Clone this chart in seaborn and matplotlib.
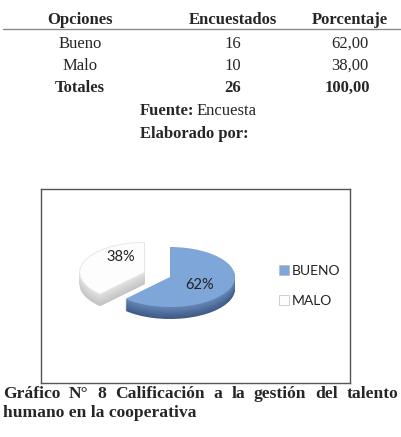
import matplotlib
matplotlib.use("Agg")
import matplotlib.pyplot as plt
import seaborn as sns
import numpy as np
from matplotlib.lines import Line2D

# ---- data ----
opciones = ["Bueno", "Malo"]
encuestados = [16, 10]
porcentaje = ["62,00", "38,00"]
total_enc = "26"
total_pct = "100,00"
pie_labels = ["BUENO", "MALO"]
pie_values = [62, 38]

sns.set_style("white")
plt.rcParams['font.family'] = ['Liberation Serif', 'DejaVu Serif']

W, H = 401, 437
fig = plt.figure(figsize=(W / 100, H / 100), dpi=100)
fig.patch.set_facecolor("white")

def fx(x):
    return x / W

def fy(y):
    return 1 - y / H

serif = 'Liberation Serif'
fs = 12

# ---- table ----
cols_x = [80, 233, 350]
headers = ["Opciones", "Encuestados", "Porcentaje"]
for cx_, h in zip(cols_x, headers):
    fig.text(fx(cx_), fy(24), h, ha='center', va='baseline', fontsize=fs,
             fontweight='bold', family=serif)
fig.add_artist(Line2D([fx(3), fx(401)], [fy(29), fy(29)], color='#8a8a8a', lw=1.0))
rows_y = [48, 70]
for ry_, o, e, p in zip(rows_y, opciones, encuestados, porcentaje):
    fig.text(fx(cols_x[0]), fy(ry_), o, ha='center', va='baseline', fontsize=fs, family=serif)
    fig.text(fx(cols_x[1]), fy(ry_), str(e), ha='center', va='baseline', fontsize=fs, family=serif)
    fig.text(fx(cols_x[2]), fy(ry_), p, ha='center', va='baseline', fontsize=fs, family=serif)
fig.text(fx(cols_x[0]), fy(92), "Totales", ha='center', va='baseline', fontsize=fs,
         fontweight='bold', family=serif)
fig.text(fx(cols_x[1]), fy(92), total_enc, ha='center', va='baseline', fontsize=fs,
         fontweight='bold', family=serif)
fig.text(fx(347), fy(92), total_pct, ha='center', va='baseline', fontsize=fs,
         fontweight='bold', family=serif)

# Fuente / Elaborado
fig.text(fx(140), fy(115), "Fuente:", ha='left', va='baseline', fontsize=fs,
         fontweight='bold', family=serif)
fig.text(fx(197), fy(115), "Encuesta", ha='left', va='baseline', fontsize=fs, family=serif)
fig.text(fx(194), fy(138), "Elaborado por:", ha='center', va='baseline', fontsize=fs,
         fontweight='bold', family=serif)

# ---- pie chart box ----
bx0, by0, bx1, by1 = 41, 189, 350, 383
ax = fig.add_axes([fx(bx0), fy(by1), (bx1 - bx0) / W, (by1 - by0) / H])
cx, cy, rx, ry = 170, 277, 65, 30
depth = 12

explode = [0.0, 0.42]
top_colors = ['#7fa6d9', '#fdfdfd']

nlayers = 14
for i in range(nlayers, 0, -1):
    d = depth / ry * i / nlayers
    t = i / nlayers
    blue = np.array(matplotlib.colors.to_rgb('#3f5a85')) * t + np.array(matplotlib.colors.to_rgb('#6688b8')) * (1 - t)
    grey = np.array(matplotlib.colors.to_rgb('#c4c4c4')) * t + np.array(matplotlib.colors.to_rgb('#e2e2e2')) * (1 - t)
    ax.pie(pie_values, center=(0, -d), radius=1, startangle=90, counterclock=False,
           explode=explode, colors=[blue, grey], frame=True,
           wedgeprops=dict(linewidth=0))

wedges, texts, autotexts = ax.pie(
    pie_values, center=(0, 0), radius=1, startangle=90, counterclock=False,
    explode=explode, colors=top_colors, frame=True,
    autopct='%1.0f%%', pctdistance=0.55,
    textprops=dict(fontsize=10.5, color='#222222', family=['Lato', 'DejaVu Sans']),
    wedgeprops=dict(linewidth=0.6, edgecolor='none'))
wedges[1].set_edgecolor('#e4e4e4')
p = autotexts[1].get_position()
autotexts[1].set_position((p[0] + 0.15, p[1] + 0.3))
p = autotexts[0].get_position()
autotexts[0].set_position((p[0] - 0.05, p[1] - 0.05))

ax.set_aspect('auto')
ax.set_xlim((bx0 - cx) / rx, (bx1 - cx) / rx)
ax.set_ylim(-(by1 - cy) / ry, (cy - by0) / ry)
ax.set_xticks([])
ax.set_yticks([])
for s in ax.spines.values():
    s.set_visible(True)
    s.set_color('#555555')
    s.set_linewidth(1.0)

leg = fig.legend(wedges, pie_labels, loc='upper left',
                 bbox_to_anchor=(fx(279), fy(265)), frameon=False,
                 prop=dict(family=['Lato', 'DejaVu Sans'], size=10),
                 handlelength=0.75, handleheight=0.75, handletextpad=0.15,
                 labelspacing=1.3, borderaxespad=0, borderpad=0)
for h in leg.legend_handles:
    h.set_edgecolor('#bbbbbb')
    h.set_linewidth(0.5)
for t in leg.get_texts():
    t.set_color('#222222')

# ---- caption (justified first line) ----
cfs = 12.6
words = ["Gráfico", "N°", "8", "Calificación", "a", "la", "gestión", "del", "talento"]
fig.canvas.draw()
renderer = fig.canvas.get_renderer()
arts = [fig.text(0, fy(398), w, ha='left', va='baseline', fontsize=cfs,
                 fontweight='bold', family=serif) for w in words]
widths = [a.get_window_extent(renderer).width for a in arts]
left, right = 3, 398
gap = (right - left - sum(widths)) / (len(words) - 1)
x = left
for a, w in zip(arts, widths):
    a.set_x(fx(x))
    x += w + gap
fig.text(fx(3), fy(417), "humano en la cooperativa", ha='left', va='baseline', fontsize=cfs,
         fontweight='bold', family=serif)

fig.savefig("out.png", dpi=100, facecolor='white')
